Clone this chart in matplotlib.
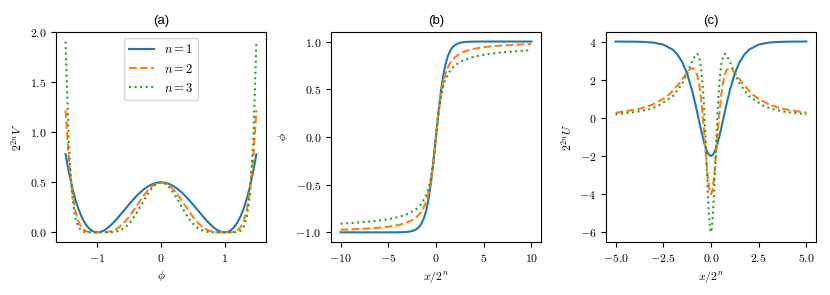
import numpy as np
import matplotlib
matplotlib.use("Agg")
import matplotlib.pyplot as plt

plt.rcParams['font.family'] = 'serif'
plt.rcParams['font.serif'] = ['cmr10']
plt.rcParams['mathtext.fontset'] = 'cm'
plt.rcParams['axes.formatter.use_mathtext'] = True
plt.rcParams['font.size'] = 8.5

# (a) potential 2^{2n} V versus phi
phi_grid = np.linspace(-1.5, 1.5, 61)
V_n1 = [0.781, 0.608, 0.461, 0.338, 0.238, 0.158, 0.097, 0.052, 0.022, 0.0053,
        0.0, 0.0048, 0.018, 0.0385, 0.065, 0.096, 0.130, 0.167, 0.205, 0.243,
        0.281, 0.318, 0.353, 0.385, 0.414, 0.439, 0.461, 0.478, 0.490, 0.4975,
        0.5,
        0.4975, 0.490, 0.478, 0.461, 0.439, 0.414, 0.385, 0.353, 0.318, 0.281,
        0.243, 0.205, 0.167, 0.130, 0.096, 0.065, 0.0385, 0.018, 0.0048, 0.0,
        0.0053, 0.022, 0.052, 0.097, 0.158, 0.238, 0.338, 0.461, 0.608, 0.781]
V_n2 = [1.221, 0.739, 0.425, 0.229, 0.113, 0.050, 0.0187, 0.0054, 0.001, 0.0001,
        0.0, 0.0, 0.0007, 0.0030, 0.0084, 0.0183, 0.0338, 0.0556, 0.0839, 0.118,
        0.158, 0.202, 0.249, 0.296, 0.343, 0.386, 0.425, 0.4565, 0.480, 0.495,
        0.5,
        0.495, 0.480, 0.4565, 0.425, 0.386, 0.343, 0.296, 0.249, 0.202, 0.158,
        0.118, 0.0839, 0.0556, 0.0338, 0.0183, 0.0084, 0.0030, 0.0007, 0.0, 0.0,
        0.0001, 0.001, 0.0054, 0.0187, 0.050, 0.113, 0.229, 0.425, 0.739, 1.221]
V_n3 = [1.907, 0.898, 0.391, 0.155, 0.054, 0.0158, 0.0036, 0.0006, 0.0, 0.0,
        0.0, 0.0, 0.0, 0.0002, 0.0011, 0.0035, 0.0088, 0.0185, 0.0344, 0.0576,
        0.089, 0.129, 0.176, 0.228, 0.284, 0.339, 0.391, 0.436, 0.471, 0.4925,
        0.5,
        0.4925, 0.471, 0.436, 0.391, 0.339, 0.284, 0.228, 0.176, 0.129, 0.089,
        0.0576, 0.0344, 0.0185, 0.0088, 0.0035, 0.0011, 0.0002, 0.0, 0.0, 0.0,
        0.0, 0.0, 0.0006, 0.0036, 0.0158, 0.054, 0.155, 0.391, 0.898, 1.907]

# (b) kink profiles phi(x / 2^n)
kx_n1 = [-10, -5, -4, -3.5, -3, -2.5, -2, -1.75, -1.5, -1.25, -1, -0.75, -0.5, -0.25,
         0, 0.25, 0.5, 0.75, 1, 1.25, 1.5, 1.75, 2, 2.5, 3, 3.5, 4, 5, 10]
kphi_n1 = [-1.0, -0.9999, -0.9993, -0.9982, -0.9951, -0.9866, -0.9640, -0.9414,
           -0.9051, -0.8483, -0.7616, -0.6351, -0.4621, -0.2449,
           0.0, 0.2449, 0.4621, 0.6351, 0.7616, 0.8483, 0.9051, 0.9414, 0.9640,
           0.9866, 0.9951, 0.9982, 0.9993, 0.9999, 1.0]
kx_n2 = [-10, -9.25, -7.10, -5.79, -4.91, -3.79, -3.10, -2.46, -2.16, -1.66, -1.34,
         -1.12, -0.815, -0.608, -0.450, -0.320, -0.206, -0.101,
         0, 0.101, 0.206, 0.320, 0.450, 0.608, 0.815, 1.12, 1.34, 1.66, 2.16, 2.46,
         3.10, 3.79, 4.91, 5.79, 7.10, 9.25, 10]
kphi_n2 = [-0.972, -0.97, -0.96, -0.95, -0.94, -0.92, -0.90, -0.87, -0.85, -0.80,
           -0.75, -0.70, -0.60, -0.50, -0.40, -0.30, -0.20, -0.10,
           0.0, 0.10, 0.20, 0.30, 0.40, 0.50, 0.60, 0.70, 0.75, 0.80, 0.85, 0.87,
           0.90, 0.92, 0.94, 0.95, 0.96, 0.97, 0.972]
kx_n3 = [-10, -9.35, -8.56, -7.29, -6.30, -5.52, -4.89, -3.95, -3.28, -2.79, -1.99,
         -1.51, -0.978, -0.678, -0.479, -0.330, -0.208, -0.101,
         0, 0.101, 0.208, 0.330, 0.479, 0.678, 0.978, 1.51, 1.99, 2.79, 3.28, 3.95,
         4.89, 5.52, 6.30, 7.29, 8.56, 9.35, 10]
kphi_n3 = [-0.909, -0.905, -0.90, -0.89, -0.88, -0.87, -0.86, -0.84, -0.82, -0.80,
           -0.75, -0.70, -0.60, -0.50, -0.40, -0.30, -0.20, -0.10,
           0.0, 0.10, 0.20, 0.30, 0.40, 0.50, 0.60, 0.70, 0.75, 0.80, 0.82, 0.84,
           0.86, 0.87, 0.88, 0.89, 0.90, 0.905, 0.909]

# (c) stability potential 2^{2n} U(x / 2^n)
ux_n1 = [-5, -4, -3.5, -3, -2.5, -2, -1.75, -1.5, -1.25, -1, -0.875, -0.75, -0.625,
         -0.5, -0.375, -0.25, -0.125,
         0, 0.125, 0.25, 0.375, 0.5, 0.625, 0.75, 0.875, 1, 1.25, 1.5, 1.75, 2,
         2.5, 3, 3.5, 4, 5]
U_n1 = [3.999, 3.992, 3.978, 3.941, 3.840, 3.576, 3.317, 2.915, 2.318, 1.480, 0.975,
        0.420, -0.155, -0.719, -1.229, -1.640, -1.907,
        -2.0, -1.907, -1.640, -1.229, -0.719, -0.155, 0.420, 0.975, 1.480, 2.318,
        2.915, 3.317, 3.576, 3.840, 3.941, 3.978, 3.992, 3.999]
ux_n2 = [-5, -4.91, -3.79, -3.10, -2.46, -2.16, -1.66, -1.34, -1.12, -0.950, -0.815,
         -0.704, -0.608, -0.525, -0.450, -0.382, -0.320, -0.261, -0.206, -0.152,
         -0.101, -0.050,
         0, 0.050, 0.101, 0.152, 0.206, 0.261, 0.320, 0.382, 0.450, 0.525, 0.608,
         0.704, 0.815, 0.950, 1.12, 1.34, 1.66, 2.16, 2.46, 3.10, 3.79, 4.91, 5]
U_n2 = [0.271, 0.281, 0.465, 0.674, 1.016, 1.250, 1.804, 2.249, 2.528, 2.611, 2.490,
        2.175, 1.688, 1.062, 0.339, -0.439, -1.226, -1.978, -2.654, -3.220,
        -3.646, -3.910,
        -4.0, -3.910, -3.646, -3.220, -2.654, -1.978, -1.226, -0.439, 0.339, 1.062,
        1.688, 2.175, 2.490, 2.611, 2.528, 2.249, 1.804, 1.250, 1.016, 0.674,
        0.465, 0.281, 0.271]
ux_n3 = [-5, -4.89, -3.95, -3.28, -2.79, -1.99, -1.51, -1.20, -0.978, -0.810,
         -0.728, -0.678, -0.570, -0.479, -0.400, -0.330, -0.267, -0.208, -0.154,
         -0.101, -0.050,
         0, 0.050, 0.101, 0.154, 0.208, 0.267, 0.330, 0.400, 0.479, 0.570, 0.678,
         0.728, 0.810, 0.978, 1.20, 1.51, 1.99, 2.79, 3.28, 3.95, 4.89, 5]
U_n3 = [0.188, 0.197, 0.305, 0.442, 0.609, 1.140, 1.782, 2.434, 2.980, 3.305,
        3.357, 3.322, 2.979, 2.270, 1.236, -0.041, -1.448, -2.854, -4.122,
        -5.130, -5.777,
        -6.0, -5.777, -5.130, -4.122, -2.854, -1.448, -0.041, 1.236, 2.270, 2.979,
        3.322, 3.357, 3.305, 2.980, 2.434, 1.782, 1.140, 0.609, 0.442, 0.305,
        0.197, 0.188]

labels = [r'$n = 1$', r'$n = 2$', r'$n = 3$']
styles = ['-', '--', ':']
colors = ['tab:blue', 'tab:orange', 'tab:green']

fig, axs = plt.subplots(1, 3, figsize=(8.3, 2.95), dpi=100)
fig.subplots_adjust(left=0.0675, right=0.983, bottom=0.18, top=0.8915, wspace=0.31)

ax = axs[0]
for v, ls, c, lab in zip([V_n1, V_n2, V_n3], styles, colors, labels):
    ax.plot(phi_grid, v, ls, color=c, label=lab)
ax.set_xlabel(r'$\phi$')
ax.set_ylabel(r'$2^{2n}V$')
ax.set_xticks([-1, 0, 1])
ax.set_yticks([0, 0.5, 1.0, 1.5, 2.0])
ax.legend(loc='upper center', fontsize=9)

ax = axs[1]
for xs, ys, ls, c in zip([kx_n1, kx_n2, kx_n3], [kphi_n1, kphi_n2, kphi_n3], styles, colors):
    ax.plot(xs, ys, ls, color=c)
ax.set_xlabel(r'$x/2^n$')
ax.set_ylabel(r'$\phi$')
ax.set_xticks([-10, -5, 0, 5, 10])
ax.set_yticks([-1.0, -0.5, 0.0, 0.5, 1.0])

ax = axs[2]
for xs, ys, ls, c in zip([ux_n1, ux_n2, ux_n3], [U_n1, U_n2, U_n3], styles, colors):
    ax.plot(xs, ys, ls, color=c)
ax.set_xlabel(r'$x/2^n$')
ax.set_ylabel(r'$2^{2n}U$')
ax.set_xticks([-5.0, -2.5, 0.0, 2.5, 5.0])
ax.set_yticks([-6, -4, -2, 0, 2, 4])

for ax, t in zip(axs, ['(a)', '(b)', '(c)']):
    ax.set_title(t, family='Liberation Sans', fontsize=9.5)

fig.savefig('out.png', dpi=100)
